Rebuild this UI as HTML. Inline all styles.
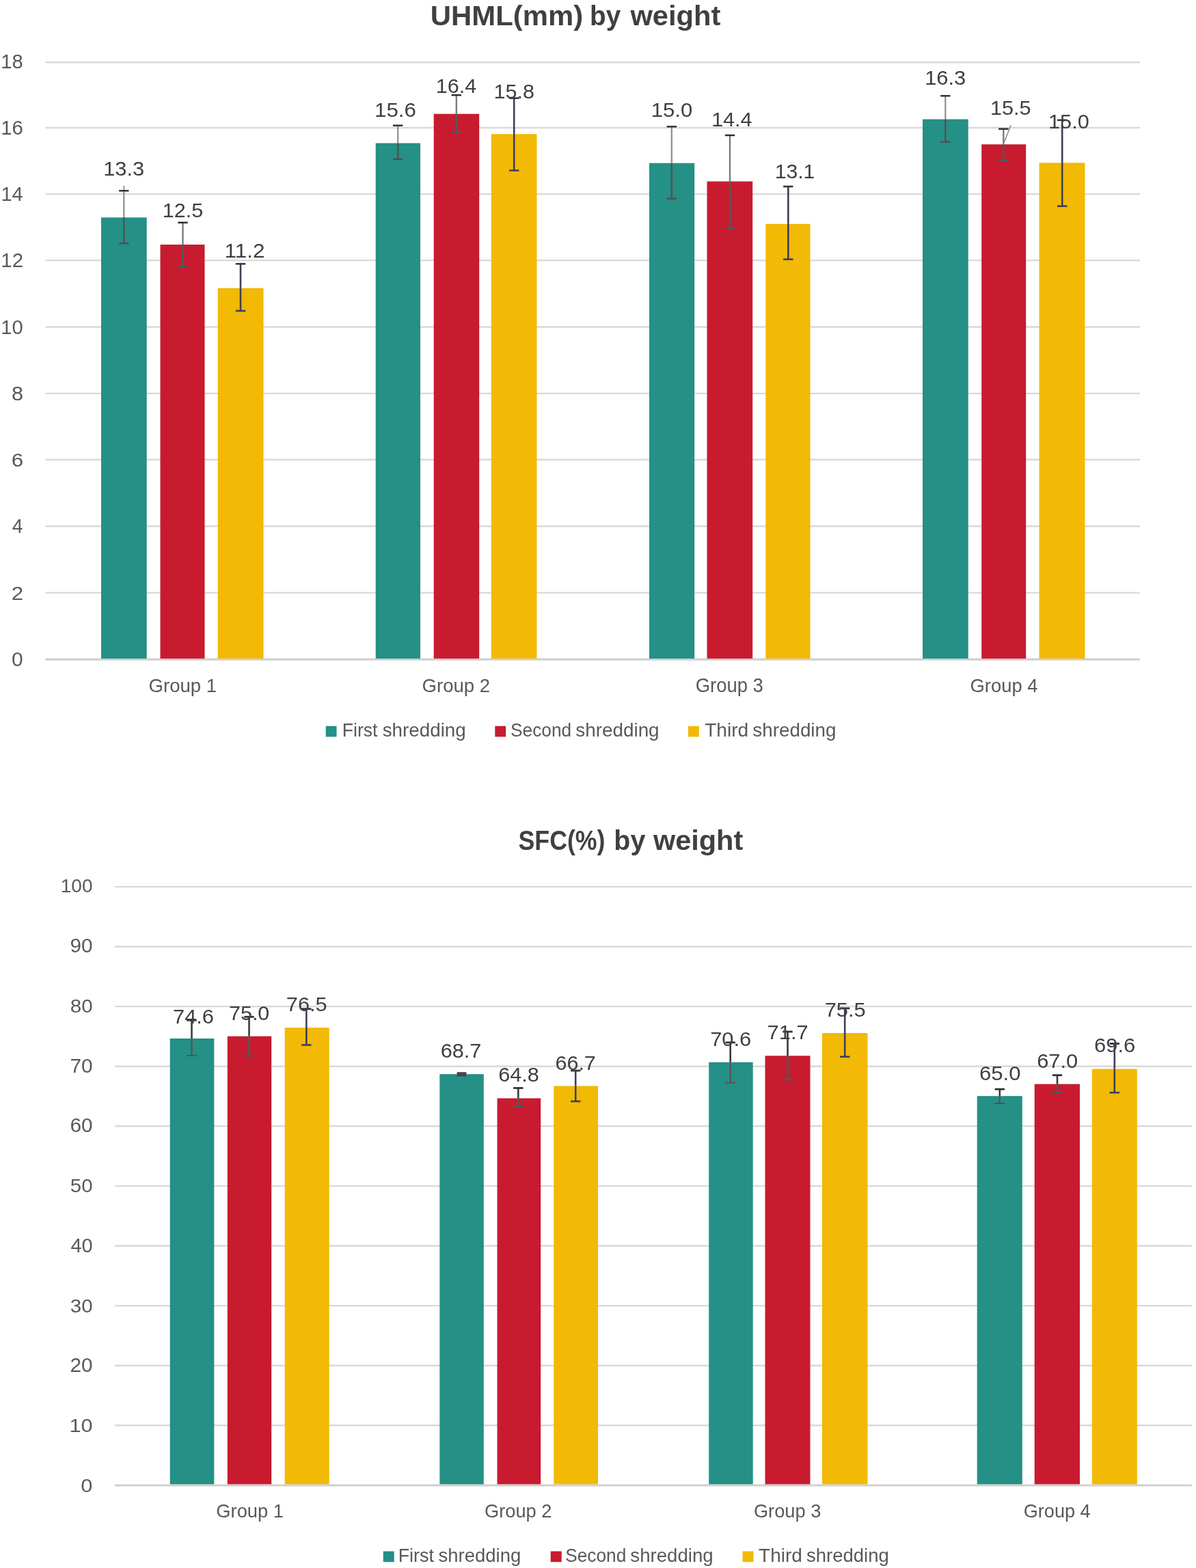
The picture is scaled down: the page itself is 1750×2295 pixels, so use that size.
<!DOCTYPE html>
<html lang="en">
<head>
<meta charset="utf-8">
<title>UHML(mm) by weight / SFC(%) by weight</title>
<style>
html,body{margin:0;padding:0;background:#fff;}
body{width:1750px;height:2295px;overflow:hidden;}
svg{display:block;font-family:'Liberation Sans', sans-serif;}
text{white-space:pre;}
</style>
</head>
<body>
<svg width="1750" height="2295" viewBox="0 0 1750 2295">
<rect x="0" y="0" width="1750" height="2295" fill="#ffffff"/>
<g id="chart-uhml">
<line x1="66.70" y1="965.20" x2="1668.00" y2="965.20" stroke="#D0D0D0" stroke-width="3.2"/>
<line x1="66.70" y1="867.60" x2="1668.00" y2="867.60" stroke="#D9D9D9" stroke-width="2.4"/>
<line x1="66.70" y1="770.20" x2="1668.00" y2="770.20" stroke="#D9D9D9" stroke-width="2.4"/>
<line x1="66.70" y1="672.80" x2="1668.00" y2="672.80" stroke="#D9D9D9" stroke-width="2.4"/>
<line x1="66.70" y1="575.90" x2="1668.00" y2="575.90" stroke="#D9D9D9" stroke-width="2.4"/>
<line x1="66.70" y1="478.50" x2="1668.00" y2="478.50" stroke="#D9D9D9" stroke-width="2.4"/>
<line x1="66.70" y1="381.10" x2="1668.00" y2="381.10" stroke="#D9D9D9" stroke-width="2.4"/>
<line x1="66.70" y1="284.10" x2="1668.00" y2="284.10" stroke="#D9D9D9" stroke-width="2.4"/>
<line x1="66.70" y1="187.00" x2="1668.00" y2="187.00" stroke="#D9D9D9" stroke-width="2.4"/>
<line x1="66.70" y1="91.20" x2="1668.00" y2="91.20" stroke="#D9D9D9" stroke-width="2.4"/>
<rect x="148.00" y="318.30" width="66.70" height="645.60" fill="#249086"/>
<rect x="234.50" y="358.00" width="65.00" height="605.90" fill="#C81B2F"/>
<rect x="318.70" y="421.70" width="66.80" height="542.20" fill="#F2B905"/>
<rect x="549.70" y="209.50" width="65.30" height="754.40" fill="#249086"/>
<rect x="634.70" y="166.70" width="66.50" height="797.20" fill="#C81B2F"/>
<rect x="718.80" y="196.20" width="66.70" height="767.70" fill="#F2B905"/>
<rect x="950.00" y="238.70" width="66.20" height="725.20" fill="#249086"/>
<rect x="1034.50" y="265.50" width="66.70" height="698.40" fill="#C81B2F"/>
<rect x="1120.30" y="327.80" width="65.20" height="636.10" fill="#F2B905"/>
<rect x="1350.00" y="174.50" width="66.70" height="789.40" fill="#249086"/>
<rect x="1436.20" y="211.30" width="65.00" height="752.60" fill="#C81B2F"/>
<rect x="1520.50" y="238.30" width="67.00" height="725.60" fill="#F2B905"/>
<line x1="181.30" y1="271.70" x2="181.30" y2="279.20" stroke="#8a8a8a" stroke-width="1.8"/>
<line x1="181.30" y1="279.20" x2="181.30" y2="318.30" stroke="#979797" stroke-width="2.4"/>
<line x1="181.30" y1="318.30" x2="181.30" y2="356.20" stroke="#5c4c4c" stroke-width="2.3"/>
<line x1="174.10" y1="279.20" x2="188.50" y2="279.20" stroke="#333333" stroke-width="2.5"/>
<line x1="174.10" y1="356.20" x2="188.50" y2="356.20" stroke="#5c4c4c" stroke-width="2.3"/>
<line x1="267.50" y1="325.80" x2="267.50" y2="358.00" stroke="#7c7c7c" stroke-width="2.4"/>
<line x1="267.50" y1="358.00" x2="267.50" y2="389.70" stroke="#4a5c5c" stroke-width="2.5"/>
<line x1="260.30" y1="325.80" x2="274.70" y2="325.80" stroke="#2e2e2e" stroke-width="2.5"/>
<line x1="260.30" y1="389.70" x2="274.70" y2="389.70" stroke="#4a5c5c" stroke-width="2.5"/>
<line x1="352.00" y1="386.20" x2="352.00" y2="421.70" stroke="#3c4056" stroke-width="2.6"/>
<line x1="352.00" y1="421.70" x2="352.00" y2="455.00" stroke="#3c4056" stroke-width="2.6"/>
<line x1="344.80" y1="386.20" x2="359.20" y2="386.20" stroke="#33363f" stroke-width="2.6"/>
<line x1="344.80" y1="455.00" x2="359.20" y2="455.00" stroke="#3c4056" stroke-width="2.6"/>
<line x1="582.20" y1="183.70" x2="582.20" y2="209.50" stroke="#979797" stroke-width="2.4"/>
<line x1="582.20" y1="209.50" x2="582.20" y2="233.00" stroke="#5c4c4c" stroke-width="2.3"/>
<line x1="575.00" y1="183.70" x2="589.40" y2="183.70" stroke="#333333" stroke-width="2.5"/>
<line x1="575.00" y1="233.00" x2="589.40" y2="233.00" stroke="#5c4c4c" stroke-width="2.3"/>
<line x1="667.80" y1="139.20" x2="667.80" y2="166.70" stroke="#7c7c7c" stroke-width="2.4"/>
<line x1="667.80" y1="166.70" x2="667.80" y2="193.30" stroke="#4a5c5c" stroke-width="2.5"/>
<line x1="660.60" y1="139.20" x2="675.00" y2="139.20" stroke="#2e2e2e" stroke-width="2.5"/>
<line x1="660.60" y1="193.30" x2="675.00" y2="193.30" stroke="#4a5c5c" stroke-width="2.5"/>
<line x1="752.20" y1="143.70" x2="752.20" y2="196.20" stroke="#3c4056" stroke-width="2.6"/>
<line x1="752.20" y1="196.20" x2="752.20" y2="249.50" stroke="#3c4056" stroke-width="2.6"/>
<line x1="745.00" y1="143.70" x2="759.40" y2="143.70" stroke="#33363f" stroke-width="2.6"/>
<line x1="745.00" y1="249.50" x2="759.40" y2="249.50" stroke="#3c4056" stroke-width="2.6"/>
<line x1="982.80" y1="185.30" x2="982.80" y2="238.70" stroke="#979797" stroke-width="2.4"/>
<line x1="982.80" y1="238.70" x2="982.80" y2="290.80" stroke="#5c4c4c" stroke-width="2.3"/>
<line x1="975.60" y1="185.30" x2="990.00" y2="185.30" stroke="#333333" stroke-width="2.5"/>
<line x1="975.60" y1="290.80" x2="990.00" y2="290.80" stroke="#5c4c4c" stroke-width="2.3"/>
<line x1="1068.00" y1="198.00" x2="1068.00" y2="265.50" stroke="#7c7c7c" stroke-width="2.4"/>
<line x1="1068.00" y1="265.50" x2="1068.00" y2="333.70" stroke="#4a5c5c" stroke-width="2.5"/>
<line x1="1060.80" y1="198.00" x2="1075.20" y2="198.00" stroke="#2e2e2e" stroke-width="2.5"/>
<line x1="1060.80" y1="333.70" x2="1075.20" y2="333.70" stroke="#4a5c5c" stroke-width="2.5"/>
<line x1="1153.30" y1="273.00" x2="1153.30" y2="327.80" stroke="#3c4056" stroke-width="2.6"/>
<line x1="1153.30" y1="327.80" x2="1153.30" y2="379.50" stroke="#3c4056" stroke-width="2.6"/>
<line x1="1146.10" y1="273.00" x2="1160.50" y2="273.00" stroke="#33363f" stroke-width="2.6"/>
<line x1="1146.10" y1="379.50" x2="1160.50" y2="379.50" stroke="#3c4056" stroke-width="2.6"/>
<line x1="1383.30" y1="140.30" x2="1383.30" y2="174.50" stroke="#979797" stroke-width="2.4"/>
<line x1="1383.30" y1="174.50" x2="1383.30" y2="207.80" stroke="#5c4c4c" stroke-width="2.3"/>
<line x1="1376.10" y1="140.30" x2="1390.50" y2="140.30" stroke="#333333" stroke-width="2.5"/>
<line x1="1376.10" y1="207.80" x2="1390.50" y2="207.80" stroke="#5c4c4c" stroke-width="2.3"/>
<line x1="1468.30" y1="188.70" x2="1468.30" y2="211.30" stroke="#7c7c7c" stroke-width="2.4"/>
<line x1="1468.30" y1="211.30" x2="1468.30" y2="235.00" stroke="#4a5c5c" stroke-width="2.5"/>
<line x1="1461.10" y1="188.70" x2="1475.50" y2="188.70" stroke="#2e2e2e" stroke-width="2.5"/>
<line x1="1461.10" y1="235.00" x2="1475.50" y2="235.00" stroke="#4a5c5c" stroke-width="2.5"/>
<line x1="1554.20" y1="175.80" x2="1554.20" y2="238.30" stroke="#3c4056" stroke-width="2.6"/>
<line x1="1554.20" y1="238.30" x2="1554.20" y2="301.70" stroke="#3c4056" stroke-width="2.6"/>
<line x1="1547.00" y1="175.80" x2="1561.40" y2="175.80" stroke="#33363f" stroke-width="2.6"/>
<line x1="1547.00" y1="301.70" x2="1561.40" y2="301.70" stroke="#3c4056" stroke-width="2.6"/>
<line x1="1479.20" y1="183.30" x2="1469.20" y2="208.30" stroke="#8c8c8c" stroke-width="1.6"/>
<rect x="476.70" y="1062.70" width="15.80" height="15.70" fill="#249086"/>
<rect x="724.30" y="1062.70" width="15.80" height="15.70" fill="#C81B2F"/>
<rect x="1007.00" y="1062.70" width="15.80" height="15.70" fill="#F2B905"/>
</g>
<g id="chart-sfc">
<line x1="168.00" y1="2174.00" x2="1743.80" y2="2174.00" stroke="#D0D0D0" stroke-width="3.2"/>
<line x1="168.00" y1="2086.30" x2="1743.80" y2="2086.30" stroke="#D9D9D9" stroke-width="2.4"/>
<line x1="168.00" y1="1998.70" x2="1743.80" y2="1998.70" stroke="#D9D9D9" stroke-width="2.4"/>
<line x1="168.00" y1="1911.10" x2="1743.80" y2="1911.10" stroke="#D9D9D9" stroke-width="2.4"/>
<line x1="168.00" y1="1823.50" x2="1743.80" y2="1823.50" stroke="#D9D9D9" stroke-width="2.4"/>
<line x1="168.00" y1="1735.90" x2="1743.80" y2="1735.90" stroke="#D9D9D9" stroke-width="2.4"/>
<line x1="168.00" y1="1648.30" x2="1743.80" y2="1648.30" stroke="#D9D9D9" stroke-width="2.4"/>
<line x1="168.00" y1="1560.70" x2="1743.80" y2="1560.70" stroke="#D9D9D9" stroke-width="2.4"/>
<line x1="168.00" y1="1473.10" x2="1743.80" y2="1473.10" stroke="#D9D9D9" stroke-width="2.4"/>
<line x1="168.00" y1="1385.50" x2="1743.80" y2="1385.50" stroke="#D9D9D9" stroke-width="2.4"/>
<line x1="168.00" y1="1297.90" x2="1743.80" y2="1297.90" stroke="#D9D9D9" stroke-width="2.4"/>
<rect x="248.70" y="1520.00" width="64.60" height="652.40" fill="#249086"/>
<rect x="332.80" y="1516.70" width="64.40" height="655.70" fill="#C81B2F"/>
<rect x="416.70" y="1504.20" width="65.00" height="668.20" fill="#F2B905"/>
<rect x="643.30" y="1572.20" width="64.50" height="600.20" fill="#249086"/>
<rect x="727.50" y="1607.50" width="63.70" height="564.90" fill="#C81B2F"/>
<rect x="810.30" y="1589.50" width="64.70" height="582.90" fill="#F2B905"/>
<rect x="1037.20" y="1554.70" width="64.50" height="617.70" fill="#249086"/>
<rect x="1119.50" y="1545.30" width="66.00" height="627.10" fill="#C81B2F"/>
<rect x="1203.00" y="1512.00" width="66.50" height="660.40" fill="#F2B905"/>
<rect x="1429.70" y="1604.20" width="66.10" height="568.20" fill="#249086"/>
<rect x="1513.70" y="1586.70" width="66.30" height="585.70" fill="#C81B2F"/>
<rect x="1597.80" y="1564.50" width="66.00" height="607.90" fill="#F2B905"/>
<line x1="280.50" y1="1493.30" x2="280.50" y2="1520.00" stroke="#3a3a3a" stroke-width="2.6"/>
<line x1="280.50" y1="1520.00" x2="280.50" y2="1545.00" stroke="#664a50" stroke-width="2.0"/>
<line x1="273.30" y1="1493.30" x2="287.70" y2="1493.30" stroke="#333333" stroke-width="2.8"/>
<line x1="273.30" y1="1545.00" x2="287.70" y2="1545.00" stroke="#664a50" stroke-width="2.0"/>
<line x1="364.50" y1="1488.30" x2="364.50" y2="1516.70" stroke="#3a3a3a" stroke-width="2.6"/>
<line x1="364.50" y1="1516.70" x2="364.50" y2="1545.00" stroke="#4a5c5c" stroke-width="2.5"/>
<line x1="357.30" y1="1488.30" x2="371.70" y2="1488.30" stroke="#333333" stroke-width="2.8"/>
<line x1="357.30" y1="1545.00" x2="371.70" y2="1545.00" stroke="#4a5c5c" stroke-width="2.5"/>
<line x1="448.30" y1="1476.70" x2="448.30" y2="1504.20" stroke="#3c4056" stroke-width="2.6"/>
<line x1="448.30" y1="1504.20" x2="448.30" y2="1529.50" stroke="#3c4056" stroke-width="2.6"/>
<line x1="441.10" y1="1476.70" x2="455.50" y2="1476.70" stroke="#33363f" stroke-width="2.8"/>
<line x1="441.10" y1="1529.50" x2="455.50" y2="1529.50" stroke="#3c4056" stroke-width="2.6"/>
<rect x="668.60" y="1569.20" width="13.80" height="6.30" fill="#4a4448"/>
<line x1="758.30" y1="1592.50" x2="758.30" y2="1607.50" stroke="#3a3a3a" stroke-width="2.6"/>
<line x1="758.30" y1="1607.50" x2="758.30" y2="1619.70" stroke="#4a5c5c" stroke-width="2.5"/>
<line x1="751.10" y1="1592.50" x2="765.50" y2="1592.50" stroke="#333333" stroke-width="2.8"/>
<line x1="751.10" y1="1619.70" x2="765.50" y2="1619.70" stroke="#4a5c5c" stroke-width="2.5"/>
<line x1="842.20" y1="1567.00" x2="842.20" y2="1589.50" stroke="#3c4056" stroke-width="2.6"/>
<line x1="842.20" y1="1589.50" x2="842.20" y2="1612.00" stroke="#3c4056" stroke-width="2.6"/>
<line x1="835.00" y1="1567.00" x2="849.40" y2="1567.00" stroke="#33363f" stroke-width="2.8"/>
<line x1="835.00" y1="1612.00" x2="849.40" y2="1612.00" stroke="#3c4056" stroke-width="2.6"/>
<line x1="1068.70" y1="1525.80" x2="1068.70" y2="1554.70" stroke="#3a3a3a" stroke-width="2.6"/>
<line x1="1068.70" y1="1554.70" x2="1068.70" y2="1584.70" stroke="#664a50" stroke-width="2.0"/>
<line x1="1061.50" y1="1525.80" x2="1075.90" y2="1525.80" stroke="#333333" stroke-width="2.8"/>
<line x1="1061.50" y1="1584.70" x2="1075.90" y2="1584.70" stroke="#664a50" stroke-width="2.0"/>
<line x1="1152.50" y1="1510.00" x2="1152.50" y2="1545.30" stroke="#3a3a3a" stroke-width="2.6"/>
<line x1="1152.50" y1="1545.30" x2="1152.50" y2="1580.00" stroke="#4a5c5c" stroke-width="2.5"/>
<line x1="1145.30" y1="1510.00" x2="1159.70" y2="1510.00" stroke="#333333" stroke-width="2.8"/>
<line x1="1145.30" y1="1580.00" x2="1159.70" y2="1580.00" stroke="#4a5c5c" stroke-width="2.5"/>
<line x1="1236.20" y1="1475.80" x2="1236.20" y2="1512.00" stroke="#3c4056" stroke-width="2.6"/>
<line x1="1236.20" y1="1512.00" x2="1236.20" y2="1546.70" stroke="#3c4056" stroke-width="2.6"/>
<line x1="1229.00" y1="1475.80" x2="1243.40" y2="1475.80" stroke="#33363f" stroke-width="2.8"/>
<line x1="1229.00" y1="1546.70" x2="1243.40" y2="1546.70" stroke="#3c4056" stroke-width="2.6"/>
<line x1="1462.80" y1="1594.20" x2="1462.80" y2="1604.20" stroke="#3a3a3a" stroke-width="2.6"/>
<line x1="1462.80" y1="1604.20" x2="1462.80" y2="1615.00" stroke="#664a50" stroke-width="2.0"/>
<line x1="1455.60" y1="1594.20" x2="1470.00" y2="1594.20" stroke="#333333" stroke-width="2.8"/>
<line x1="1455.60" y1="1615.00" x2="1470.00" y2="1615.00" stroke="#664a50" stroke-width="2.0"/>
<line x1="1547.00" y1="1573.70" x2="1547.00" y2="1586.70" stroke="#3a3a3a" stroke-width="2.6"/>
<line x1="1547.00" y1="1586.70" x2="1547.00" y2="1599.20" stroke="#4a5c5c" stroke-width="2.5"/>
<line x1="1539.80" y1="1573.70" x2="1554.20" y2="1573.70" stroke="#333333" stroke-width="2.8"/>
<line x1="1539.80" y1="1599.20" x2="1554.20" y2="1599.20" stroke="#4a5c5c" stroke-width="2.5"/>
<line x1="1630.80" y1="1527.50" x2="1630.80" y2="1564.50" stroke="#3c4056" stroke-width="2.6"/>
<line x1="1630.80" y1="1564.50" x2="1630.80" y2="1599.20" stroke="#3c4056" stroke-width="2.6"/>
<line x1="1623.60" y1="1527.50" x2="1638.00" y2="1527.50" stroke="#33363f" stroke-width="2.8"/>
<line x1="1623.60" y1="1599.20" x2="1638.00" y2="1599.20" stroke="#3c4056" stroke-width="2.6"/>
<rect x="560.70" y="2270.50" width="16.00" height="15.70" fill="#249086"/>
<rect x="805.70" y="2270.50" width="16.00" height="15.70" fill="#C81B2F"/>
<rect x="1086.50" y="2270.50" width="16.00" height="15.70" fill="#F2B905"/>
</g>
<g id="labels">
<text transform="translate(17.00 975.00) scale(1.0500 1)" font-size="28.57" font-weight="normal" fill="#595959">0</text>
<text transform="translate(16.63 877.74) scale(1.0957 1)" font-size="28.57" font-weight="normal" fill="#595959">2</text>
<text transform="translate(17.64 780.48) scale(0.9741 1)" font-size="28.99" font-weight="normal" fill="#595959">4</text>
<text transform="translate(16.63 683.22) scale(1.0957 1)" font-size="28.57" font-weight="normal" fill="#595959">6</text>
<text transform="translate(16.97 585.96) scale(1.0723 1)" font-size="28.57" font-weight="normal" fill="#595959">8</text>
<text transform="translate(1.36 488.70) scale(1.0217 1)" font-size="28.57" font-weight="normal" fill="#595959">10</text>
<text transform="translate(1.34 391.44) scale(1.0321 1)" font-size="28.57" font-weight="normal" fill="#595959">12</text>
<text transform="translate(1.39 294.18) scale(0.9971 1)" font-size="28.99" font-weight="normal" fill="#595959">14</text>
<text transform="translate(1.36 196.92) scale(1.0217 1)" font-size="28.57" font-weight="normal" fill="#595959">16</text>
<text transform="translate(1.36 99.66) scale(1.0217 1)" font-size="28.57" font-weight="normal" fill="#595959">18</text>
<text transform="translate(151.13 257.30) scale(1.0374 1)" font-size="29.71" font-weight="normal" fill="#404040">13.3</text>
<text transform="translate(237.86 317.60) scale(1.0281 1)" font-size="29.71" font-weight="normal" fill="#404040">12.5</text>
<text transform="translate(328.58 377.00) scale(1.0599 1)" font-size="29.71" font-weight="normal" fill="#404040">11.2</text>
<text transform="translate(548.10 171.10) scale(1.0521 1)" font-size="29.71" font-weight="normal" fill="#404040">15.6</text>
<text transform="translate(637.86 135.60) scale(1.0261 1)" font-size="29.71" font-weight="normal" fill="#404040">16.4</text>
<text transform="translate(722.56 144.00) scale(1.0263 1)" font-size="29.71" font-weight="normal" fill="#404040">15.8</text>
<text transform="translate(952.81 171.00) scale(1.0464 1)" font-size="29.71" font-weight="normal" fill="#404040">15.0</text>
<text transform="translate(1041.16 185.30) scale(1.0114 1)" font-size="30.14" font-weight="normal" fill="#404040">14.4</text>
<text transform="translate(1133.69 260.60) scale(1.0152 1)" font-size="29.71" font-weight="normal" fill="#404040">13.1</text>
<text transform="translate(1353.13 123.50) scale(1.0374 1)" font-size="29.71" font-weight="normal" fill="#404040">16.3</text>
<text transform="translate(1449.05 167.60) scale(1.0152 1)" font-size="30.14" font-weight="normal" fill="#404040">15.5</text>
<text transform="translate(1534.04 188.10) scale(1.0335 1)" font-size="29.71" font-weight="normal" fill="#404040">15.0</text>
<text transform="translate(217.62 1013.30) scale(0.9642 1)" font-size="28.57" font-weight="normal" fill="#595959">Group 1</text>
<text transform="translate(617.62 1013.30) scale(0.9642 1)" font-size="28.57" font-weight="normal" fill="#595959">Group 2</text>
<text transform="translate(1017.63 1013.30) scale(0.9615 1)" font-size="28.57" font-weight="normal" fill="#595959">Group 3</text>
<text transform="translate(1419.53 1013.30) scale(0.9588 1)" font-size="28.57" font-weight="normal" fill="#595959">Group 4</text>
<text y="1078.30" font-size="27.97" font-weight="normal" fill="#595959"><tspan x="500.77" textLength="51.73" lengthAdjust="spacingAndGlyphs">First</tspan> <tspan x="559.67" textLength="122.06" lengthAdjust="spacingAndGlyphs">shredding</tspan></text>
<text y="1078.30" font-size="27.57" font-weight="normal" fill="#595959"><tspan x="746.99" textLength="89.14" lengthAdjust="spacingAndGlyphs">Second</tspan> <tspan x="842.26" textLength="122.37" lengthAdjust="spacingAndGlyphs">shredding</tspan></text>
<text y="1078.30" font-size="27.97" font-weight="normal" fill="#595959"><tspan x="1031.14" textLength="64.09" lengthAdjust="spacingAndGlyphs">Third</tspan> <tspan x="1101.37" textLength="122.06" lengthAdjust="spacingAndGlyphs">shredding</tspan></text>
<text y="36.90" font-size="40.87" font-weight="bold" fill="#404040"><tspan x="629.89" textLength="223.22" lengthAdjust="spacingAndGlyphs">UHML(mm)</tspan> <tspan x="863.09" textLength="45.18" lengthAdjust="spacingAndGlyphs">by</tspan> <tspan x="922.40" textLength="131.89" lengthAdjust="spacingAndGlyphs">weight</tspan></text>
<text transform="translate(118.37 2184.00) scale(1.0792 1)" font-size="28.57" font-weight="normal" fill="#595959">0</text>
<text transform="translate(101.54 2096.23) scale(1.0747 1)" font-size="28.57" font-weight="normal" fill="#595959">10</text>
<text transform="translate(102.51 2008.46) scale(1.0431 1)" font-size="28.57" font-weight="normal" fill="#595959">20</text>
<text transform="translate(102.82 1920.69) scale(1.0330 1)" font-size="28.57" font-weight="normal" fill="#595959">30</text>
<text transform="translate(103.42 1832.92) scale(1.0133 1)" font-size="28.57" font-weight="normal" fill="#595959">40</text>
<text transform="translate(102.82 1745.15) scale(1.0330 1)" font-size="28.57" font-weight="normal" fill="#595959">50</text>
<text transform="translate(102.51 1657.38) scale(1.0431 1)" font-size="28.57" font-weight="normal" fill="#595959">60</text>
<text transform="translate(102.51 1569.61) scale(1.0431 1)" font-size="28.57" font-weight="normal" fill="#595959">70</text>
<text transform="translate(102.82 1481.84) scale(1.0330 1)" font-size="28.57" font-weight="normal" fill="#595959">80</text>
<text transform="translate(102.51 1394.07) scale(1.0431 1)" font-size="28.57" font-weight="normal" fill="#595959">90</text>
<text transform="translate(88.76 1306.30) scale(0.9800 1)" font-size="28.57" font-weight="normal" fill="#595959">100</text>
<text transform="translate(253.06 1497.50) scale(1.0369 1)" font-size="29.71" font-weight="normal" fill="#404040">74.6</text>
<text transform="translate(335.08 1492.50) scale(1.0241 1)" font-size="29.71" font-weight="normal" fill="#404040">75.0</text>
<text transform="translate(418.87 1480.00) scale(1.0314 1)" font-size="29.71" font-weight="normal" fill="#404040">76.5</text>
<text transform="translate(644.67 1548.00) scale(1.0314 1)" font-size="29.71" font-weight="normal" fill="#404040">68.7</text>
<text transform="translate(729.17 1583.00) scale(1.0314 1)" font-size="29.71" font-weight="normal" fill="#404040">64.8</text>
<text transform="translate(812.58 1565.80) scale(1.0242 1)" font-size="29.71" font-weight="normal" fill="#404040">66.7</text>
<text transform="translate(1039.15 1530.50) scale(1.0405 1)" font-size="29.71" font-weight="normal" fill="#404040">70.6</text>
<text transform="translate(1122.56 1521.20) scale(1.0239 1)" font-size="30.14" font-weight="normal" fill="#404040">71.7</text>
<text transform="translate(1206.65 1488.00) scale(1.0257 1)" font-size="30.14" font-weight="normal" fill="#404040">75.5</text>
<text transform="translate(1433.05 1581.30) scale(1.0458 1)" font-size="29.71" font-weight="normal" fill="#404040">65.0</text>
<text transform="translate(1517.15 1562.50) scale(1.0404 1)" font-size="29.71" font-weight="normal" fill="#404040">67.0</text>
<text transform="translate(1601.05 1540.00) scale(1.0424 1)" font-size="29.71" font-weight="normal" fill="#404040">69.6</text>
<text transform="translate(316.34 2221.30) scale(0.9649 1)" font-size="28.29" font-weight="normal" fill="#595959">Group 1</text>
<text transform="translate(709.04 2221.30) scale(0.9629 1)" font-size="28.29" font-weight="normal" fill="#595959">Group 2</text>
<text transform="translate(1102.94 2221.30) scale(0.9622 1)" font-size="28.29" font-weight="normal" fill="#595959">Group 3</text>
<text transform="translate(1497.64 2221.30) scale(0.9595 1)" font-size="28.29" font-weight="normal" fill="#595959">Group 4</text>
<text y="2286.10" font-size="27.68" font-weight="normal" fill="#595959"><tspan x="582.65" textLength="52.26" lengthAdjust="spacingAndGlyphs">First</tspan> <tspan x="641.58" textLength="120.63" lengthAdjust="spacingAndGlyphs">shredding</tspan></text>
<text y="2286.10" font-size="27.29" font-weight="normal" fill="#595959"><tspan x="827.29" textLength="88.93" lengthAdjust="spacingAndGlyphs">Second</tspan> <tspan x="922.37" textLength="121.24" lengthAdjust="spacingAndGlyphs">shredding</tspan></text>
<text y="2286.10" font-size="27.68" font-weight="normal" fill="#595959"><tspan x="1110.14" textLength="63.67" lengthAdjust="spacingAndGlyphs">Third</tspan> <tspan x="1180.08" textLength="120.63" lengthAdjust="spacingAndGlyphs">shredding</tspan></text>
<text y="1243.80" font-size="40.43" font-weight="bold" fill="#404040"><tspan x="758.53" textLength="126.99" lengthAdjust="spacingAndGlyphs">SFC(%)</tspan> <tspan x="898.34" textLength="46.04" lengthAdjust="spacingAndGlyphs">by</tspan> <tspan x="955.90" textLength="131.39" lengthAdjust="spacingAndGlyphs">weight</tspan></text>
</g>
</svg>
</body>
</html>
